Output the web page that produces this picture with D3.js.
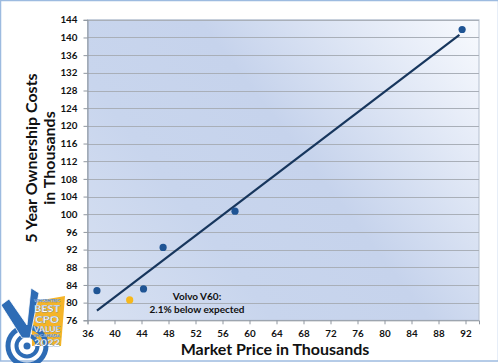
<!DOCTYPE html>
<html>
<head>
<meta charset="utf-8">
<script src="https://cdn.jsdelivr.net/npm/d3@7"></script>
<style>
  html, body { margin: 0; padding: 0; background: #fff; }
  svg { display: block; }
  text { font-family: Lato, "Open Sans", sans-serif; }
</style>
</head>
<body>
<script>
// ---- data ----
const pointX = [37.4, 42.25, 44.3, 47.2, 57.85, 91.5];
const pointY = [82.7, 80.6, 83.1, 92.5, 100.7, 141.8];
const pointHighlight = [false, true, false, false, false, false];
const trendX = [37.4, 91.1];
const trendY = [78.2, 140.6];
const xTicks = [36, 40, 44, 48, 52, 56, 60, 64, 68, 72, 76, 80, 84, 88, 92];
const yTicks = [76, 80, 84, 88, 92, 96, 100, 104, 108, 112, 116, 120, 124, 128, 132, 136, 140, 144];
const xTitle = "Market Price in Thousands";
const yTitleLines = ["5 Year Ownership Costs", "in Thousands"];
const noteLines = ["Volvo V60:", "2.1% below expected"];
const badgeLines = ["VINCENTRIC", "BEST", "CPO", "VALUE", "IN CANADA", "2022"];

const W = 498, H = 363;
const svg = d3.select("body").append("svg").attr("width", W).attr("height", H);

const x = d3.scaleLinear().domain([36, 94]).range([87.5, 479]);
const y = d3.scaleLinear().domain([76, 144]).range([320.3, 19.8]);

// outer frame
svg.append("rect").attr("x", 0.5).attr("y", 0.5).attr("width", W).attr("height", 360.5)
  .attr("fill", "#fff").attr("stroke", "#9dbbe0").attr("stroke-width", 1.5);

// gradient
const defs = svg.append("defs");
const g = defs.append("linearGradient").attr("id", "bg").attr("gradientUnits", "userSpaceOnUse")
  .attr("x1", x(94)).attr("y1", y(144)).attr("x2", x(36)).attr("y2", y(76));
g.append("stop").attr("offset", 0).attr("stop-color", "#f8fafe");
g.append("stop").attr("offset", 0.45).attr("stop-color", "#c6d3ec");
g.append("stop").attr("offset", 0.7).attr("stop-color", "#c8d5ed");
g.append("stop").attr("offset", 1).attr("stop-color", "#d8e1f2");

svg.append("rect").attr("x", x(36)).attr("y", y(144))
  .attr("width", x(94) - x(36)).attr("height", y(76) - y(144))
  .attr("fill", "url(#bg)").attr("stroke", "#b4bfcf").attr("stroke-width", 1);

// gridlines
svg.append("g").selectAll("line").data(yTicks.filter(d => d > 76)).join("line")
  .attr("x1", x(36)).attr("x2", x(94))
  .attr("y1", d => Math.round(y(d)) + 0.5).attr("y2", d => Math.round(y(d)) + 0.5)
  .attr("stroke", "#a9afb8").attr("stroke-width", 1);

// axes
const yAxis = d3.axisLeft(y).tickValues(yTicks).tickSize(4).tickPadding(6);
const yg = svg.append("g").attr("transform", `translate(${x(36)},0)`).call(yAxis);
const xAxis = d3.axisBottom(x).tickValues(xTicks).tickSize(4).tickPadding(5.5);
const xg = svg.append("g").attr("transform", `translate(0,${y(76)})`).call(xAxis);
[yg, xg].forEach(a => {
  a.select(".domain").attr("stroke", "#8f969f");
  a.selectAll(".tick line").attr("stroke", "#8f969f");
  a.selectAll(".tick text").attr("fill", "#111").attr("font-size", 9.8)
    .attr("font-weight", "bold").attr("font-family", "Lato, 'Open Sans', sans-serif");
});

// trend line
svg.append("path")
  .datum(trendX.map((d, i) => [d, trendY[i]]))
  .attr("d", d3.line().x(d => x(d[0])).y(d => y(d[1])))
  .attr("fill", "none").attr("stroke", "#17365d").attr("stroke-width", 2.2);

// points
svg.append("g").selectAll("circle").data(pointX.map((d, i) => ({x: d, y: pointY[i], h: pointHighlight[i]})))
  .join("circle")
  .attr("cx", d => x(d.x)).attr("cy", d => y(d.y)).attr("r", 3.6)
  .attr("fill", d => d.h ? "#f7b81a" : "#1f5494");

// annotation
svg.append("text").attr("x", 197).attr("y", 300).attr("text-anchor", "middle")
  .attr("font-size", 10).attr("font-weight", "bold").attr("fill", "#111").text(noteLines[0]);
svg.append("text").attr("x", 197).attr("y", 313).attr("text-anchor", "middle")
  .attr("font-size", 10).attr("font-weight", "bold").attr("fill", "#111").text(noteLines[1]);

// axis titles
svg.append("text").attr("x", 275).attr("y", 354.5).attr("text-anchor", "middle")
  .attr("font-size", 16).attr("font-weight", "bold").attr("fill", "#111").text(xTitle);
const yt = svg.append("text").attr("transform", "translate(0,158) rotate(-90)")
  .attr("text-anchor", "middle").attr("font-size", 16).attr("font-weight", "bold").attr("fill", "#111");
yt.append("tspan").attr("x", 0).attr("y", 37).text(yTitleLines[0]);
yt.append("tspan").attr("x", 0).attr("y", 55).text(yTitleLines[1]);

// logo badge
const logo = svg.append("g");
const blue = "#2e6cb5", gold = "#f5b428";
logo.append("polygon").attr("points", "31,302 65,296 61,346 32,346").attr("fill", gold);
logo.append("circle").attr("cx", 27).attr("cy", 346).attr("r", 19).attr("fill", "none").attr("stroke", blue).attr("stroke-width", 5);
logo.append("circle").attr("cx", 27).attr("cy", 346).attr("r", 10.5).attr("fill", "none").attr("stroke", blue).attr("stroke-width", 4);
logo.append("circle").attr("cx", 27).attr("cy", 346).attr("r", 3.5).attr("fill", blue);
logo.append("path").attr("d", "M1,305 L9,299 L27,325 L31,288 L39,293 L30,338 L22,338 Z")
  .attr("fill", blue).attr("stroke", "#fff").attr("stroke-width", 0.8);
const badgeSizes = [3.4, 9.5, 9.5, 7.5, 3.4, 8.5];
const badgeWidths = [26, 26, 24, 27, 26, 26];
let badgeTop = 299;
const badgeData = badgeLines.map((t, i) => {
  const s = badgeSizes[i];
  const d = {t, s, w: badgeWidths[i], yb: badgeTop + 0.92 * s};
  badgeTop += 1.17 * s;
  return d;
});
logo.selectAll("text.l").data(badgeData).join("text").attr("class", "l")
  .attr("x", 47).attr("y", d => d.yb).attr("text-anchor", "middle")
  .attr("font-size", d => d.s).attr("font-weight", 900)
  .attr("textLength", d => d.w).attr("lengthAdjust", "spacingAndGlyphs")
  .attr("font-family", "'DejaVu Sans Condensed', 'Liberation Sans Narrow', sans-serif")
  .attr("fill", "#fff").attr("stroke", blue).attr("stroke-width", 0.25)
  .text(d => d.t);
</script>
</body>
</html>
